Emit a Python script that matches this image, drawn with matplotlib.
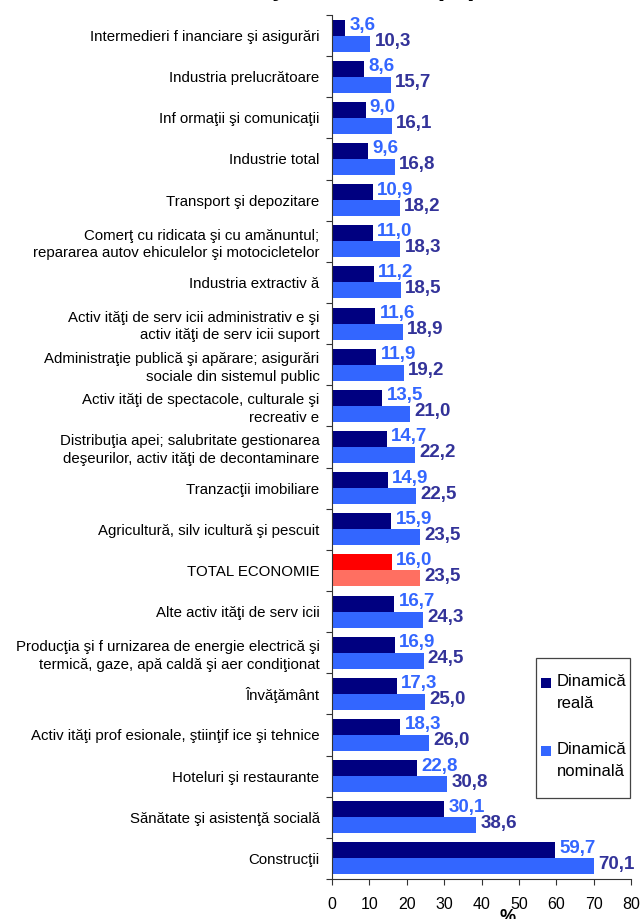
import matplotlib
matplotlib.use("Agg")
import matplotlib.pyplot as plt
from matplotlib.patches import Rectangle
import numpy as np

plt.rcParams['font.family'] = ['Liberation Sans', 'DejaVu Sans']

# top to bottom, as in the chart
CATEGORIES = [
    "Intermedieri f inanciare şi asigurări",
    "Industria prelucrătoare",
    "Inf ormaţii şi comunicaţii",
    "Industrie total",
    "Transport şi depozitare",
    "Comerţ cu ridicata şi cu amănuntul;\nrepararea autov ehiculelor şi motocicletelor",
    "Industria extractiv ă",
    "Activ ităţi de serv icii administrativ e şi\nactiv ităţi de serv icii suport",
    "Administraţie publică şi apărare; asigurări\nsociale din sistemul public",
    "Activ ităţi de spectacole, culturale şi\nrecreativ e",
    "Distribuţia apei; salubritate gestionarea\ndeşeurilor, activ ităţi de decontaminare",
    "Tranzacţii imobiliare",
    "Agricultură, silv icultură şi pescuit",
    "TOTAL ECONOMIE",
    "Alte activ ităţi de serv icii",
    "Producţia şi f urnizarea de energie electrică şi\ntermică, gaze, apă caldă şi aer condiţionat",
    "Învăţământ",
    "Activ ităţi prof esionale, ştiinţif ice şi tehnice",
    "Hoteluri şi restaurante",
    "Sănătate şi asistenţă socială",
    "Construcţii",
]
REAL = [3.6, 8.6, 9.0, 9.6, 10.9, 11.0, 11.2, 11.6, 11.9, 13.5, 14.7,
        14.9, 15.9, 16.0, 16.7, 16.9, 17.3, 18.3, 22.8, 30.1, 59.7]
NOMINAL = [10.3, 15.7, 16.1, 16.8, 18.2, 18.3, 18.5, 18.9, 19.2, 21.0, 22.2,
           22.5, 23.5, 23.5, 24.3, 24.5, 25.0, 26.0, 30.8, 38.6, 70.1]
SERIES = ["Dinamică\nreală", "Dinamică\nnominală"]
X_TICKS = [0, 10, 20, 30, 40, 50, 60, 70, 80]
HIGHLIGHT = "TOTAL ECONOMIE"

REAL_COLOR = "#000080"
NOM_COLOR = "#3366FF"
REAL_HL = "#FF0000"
NOM_HL = "#FF6F61"
REAL_TXT = "#3366FF"
NOM_TXT = "#333399"

W, H = 640, 919
fig = plt.figure(figsize=(W / 100, H / 100), dpi=100)
ax = fig.add_axes([332 / W, 1 - 879 / H, (631 - 332) / W, (879 - 15) / H])

n = len(CATEGORIES)
y = np.arange(n)
h = 0.39
real_c = [REAL_HL if c == HIGHLIGHT else REAL_COLOR for c in CATEGORIES]
nom_c = [NOM_HL if c == HIGHLIGHT else NOM_COLOR for c in CATEGORIES]

ax.barh(y - h / 2, REAL, height=h, color=real_c, linewidth=0)
ax.barh(y + h / 2, NOMINAL, height=h, color=nom_c, linewidth=0)

for i in range(n):
    ax.annotate(f"{REAL[i]:.1f}".replace(".", ","), xy=(REAL[i], y[i] - h / 2),
                xytext=(3, 1.5), textcoords="offset points", va="center",
                ha="left", color=REAL_TXT, fontweight="bold", fontsize=13.5)
    ax.annotate(f"{NOMINAL[i]:.1f}".replace(".", ","), xy=(NOMINAL[i], y[i] + h / 2),
                xytext=(3, 1.5), textcoords="offset points", va="center",
                ha="left", color=NOM_TXT, fontweight="bold", fontsize=13.5)

ax.set_ylim(n - 0.5, -0.5)
ax.set_xlim(0, 80)
ax.set_xticks(X_TICKS)
ax.set_xticklabels([str(t) for t in X_TICKS], fontsize=11.5)
ax.tick_params(axis="x", length=4, pad=9, color="#333333")

ax.set_yticks(np.arange(-0.5, n, 1))
ax.set_yticklabels([])
ax.set_yticks(y, minor=True)
ax.set_yticklabels(CATEGORIES, minor=True, fontsize=10.8, linespacing=1.3)
ax.tick_params(axis="y", which="major", length=4, color="#333333")
ax.tick_params(axis="y", which="minor", length=0, pad=9)

for s in ["top", "right"]:
    ax.spines[s].set_visible(False)
for s in ["left", "bottom"]:
    ax.spines[s].set_color("#333333")

# legend box, drawn by hand so the squares sit on the first text line
fig.patches.append(Rectangle((536 / W, 1 - 798 / H), (630 - 536) / W, 140 / H,
                             transform=fig.transFigure, fill=False,
                             edgecolor="#444444", linewidth=0.9))
for k, (label, col) in enumerate(zip(SERIES, [REAL_COLOR, NOM_COLOR])):
    top = 674 + k * 68
    fig.patches.append(Rectangle((541 / W, 1 - (top + 14) / H), 10 / W, 10 / H,
                                 transform=fig.transFigure, color=col,
                                 linewidth=0))
    fig.text(557 / W, 1 - top / H, label, ha="left", va="top",
             fontsize=12, linespacing=1.55)

# x axis unit, partly cut off at the bottom edge
fig.text(508 / W, 1 - 917 / H, "%", ha="center", va="center",
         fontsize=13, fontweight="bold")

# title, only the lower edge is visible at the top of the picture
fig.text(478 / W, 1 + 4.5 / H, "activităţi 2008/2007 (%)", ha="right",
         va="baseline", fontsize=20, fontweight="bold")

fig.savefig("out.png", dpi=100)
